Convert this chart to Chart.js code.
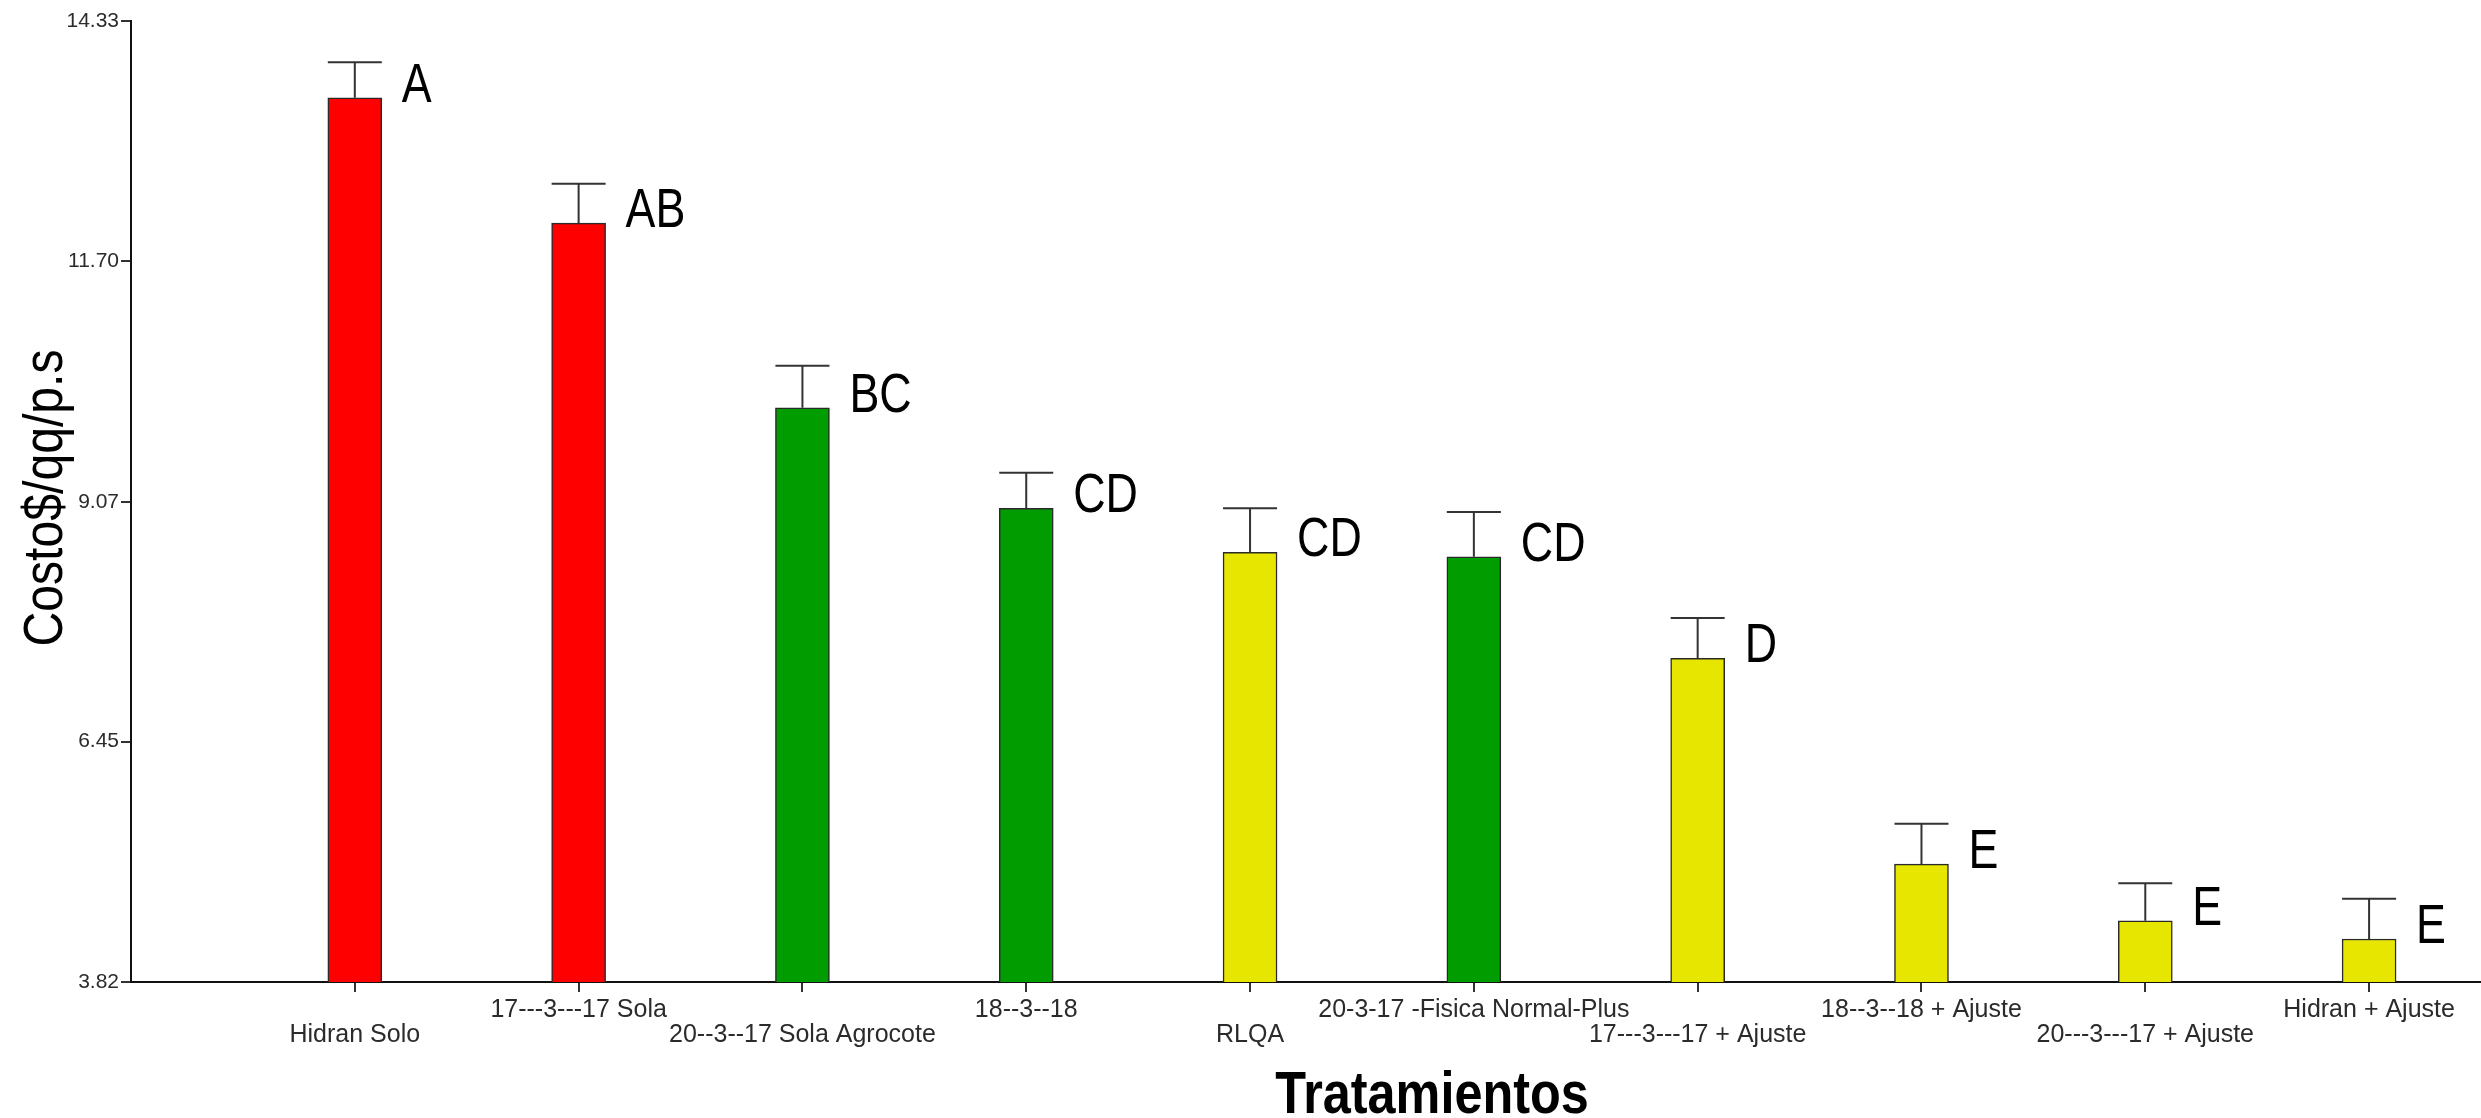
<!DOCTYPE html>
<html>
<head>
<meta charset="utf-8">
<script src="https://cdn.jsdelivr.net/npm/chart.js@4.4.1/dist/chart.umd.min.js"></script>
<style>
  html, body { margin: 0; padding: 0; background: #ffffff; }
  canvas { display: block; }
</style>
</head>
<body>
<canvas id="chart" width="2481" height="1118"></canvas>
<script>
// Treatments on the x axis
const tratamientos = [
  'Hidran Solo',
  '17---3---17 Sola',
  '20--3--17 Sola Agrocote',
  '18--3--18',
  'RLQA',
  '20-3-17 -Fisica Normal-Plus',
  '17---3---17 + Ajuste',
  '18--3--18 + Ajuste',
  '20---3---17 + Ajuste',
  'Hidran + Ajuste'
];
// Mean cost per treatment and its error bar
const costo = [13.49, 12.12, 10.10, 9.00, 8.52, 8.47, 7.36, 5.11, 4.49, 4.29];
const error = [0.39, 0.43, 0.46, 0.39, 0.48, 0.49, 0.44, 0.44, 0.41, 0.44];
// Significance groups
const letras = ['A', 'AB', 'BC', 'CD', 'CD', 'CD', 'D', 'E', 'E', 'E'];
// Fertilizer group of each treatment
const grupo = ['rojo', 'rojo', 'verde', 'verde', 'amarillo', 'verde', 'amarillo', 'amarillo', 'amarillo', 'amarillo'];
// Y axis tick values
const yTicks = [3.82, 6.45, 9.07, 11.70, 14.33];
// Positions of the treatments along the x axis
const xPos = [1, 2, 3, 4, 5, 6, 7, 8, 9, 10];

const colores = { rojo: '#ff0000', verde: '#009c00', amarillo: '#e6e600' };
const BAR_W = 54;
const FONT = "'Liberation Sans', Arial, Helvetica, sans-serif";

function drawNarrow(ctx, text, x, y, scaleX, font, align, baseline) {
  ctx.save();
  ctx.font = font;
  ctx.textAlign = align;
  ctx.textBaseline = baseline;
  ctx.translate(x, y);
  ctx.scale(scaleX, 1);
  ctx.fillText(text, 0, 0);
  ctx.restore();
}

const extras = {
  id: 'extras',
  afterDatasetsDraw(chart) {
    const ctx = chart.ctx;
    const xs = chart.scales.x, ys = chart.scales.y;
    ctx.save();
    costo.forEach((v, i) => {
      const cx = xs.getPixelForValue(xPos[i]);
      const top = ys.getPixelForValue(v);
      const cap = ys.getPixelForValue(v + error[i]);
      // error bar
      ctx.strokeStyle = '#333333';
      ctx.lineWidth = 2;
      ctx.beginPath();
      ctx.moveTo(cx, top);
      ctx.lineTo(cx, cap);
      ctx.moveTo(cx - BAR_W / 2, cap);
      ctx.lineTo(cx + BAR_W / 2, cap);
      ctx.stroke();
      // group letter
      ctx.fillStyle = '#000000';
      drawNarrow(ctx, letras[i], cx + BAR_W / 2 + 20, top + 4, 0.8,
        '56px ' + FONT, 'left', 'alphabetic');
    });
    ctx.restore();
  },
  afterDraw(chart) {
    const ctx = chart.ctx;
    ctx.save();
    ctx.fillStyle = '#000000';
    // x axis title
    drawNarrow(ctx, 'Tratamientos', 1432, 1113, 0.84,
      'bold 60px ' + FONT, 'center', 'alphabetic');
    // y axis title
    ctx.save();
    ctx.translate(62, 498);
    ctx.rotate(-Math.PI / 2);
    drawNarrow(ctx, 'Costo$/qq/p.s', 0, 0, 0.86,
      '56px ' + FONT, 'center', 'alphabetic');
    ctx.restore();
    ctx.restore();
  }
};

new Chart(document.getElementById('chart'), {
  type: 'bar',
  data: {
    datasets: [{
      data: xPos.map((x, i) => ({ x: x, y: costo[i] })),
      backgroundColor: grupo.map(g => colores[g]),
      borderColor: '#2a2a2a',
      borderWidth: 1.5,
      borderSkipped: 'bottom',
      barThickness: BAR_W
    }]
  },
  options: {
    responsive: false,
    devicePixelRatio: 1,
    animation: false,
    layout: { padding: { top: 21, right: 0, left: 0, bottom: 0 } },
    plugins: { legend: { display: false }, tooltip: { enabled: false } },
    scales: {
      x: {
        type: 'linear',
        offset: false,
        min: 0,
        max: 10.5,
        afterBuildTicks(scale) { scale.ticks = xPos.map(v => ({ value: v })); },
        afterFit(scale) {
          scale.height = 136;
          scale.paddingLeft = 0;
          scale.paddingRight = 0;
        },
        border: { display: true, color: '#111111', width: 2 },
        grid: { offset: false, drawOnChartArea: false, drawTicks: true, tickLength: 10, color: '#333333', lineWidth: 2 },
        ticks: {
          autoSkip: false,
          maxRotation: 0,
          minRotation: 0,
          padding: 6,
          color: '#2b2b2b',
          font: { family: FONT, size: 25, lineHeight: 1.0 },
          callback(value, index) {
            const t = tratamientos[index];
            return index % 2 === 0 ? ['', t] : t;
          }
        }
      },
      y: {
        type: 'linear',
        min: yTicks[0],
        max: yTicks[yTicks.length - 1],
        afterBuildTicks(scale) { scale.ticks = yTicks.map(v => ({ value: v })); },
        afterFit(scale) {
          scale.width = 131;
          scale.paddingTop = 0;
          scale.paddingBottom = 0;
        },
        border: { display: true, color: '#111111', width: 2 },
        grid: { drawOnChartArea: false, drawTicks: true, tickLength: 10, color: '#333333', lineWidth: 2 },
        ticks: {
          padding: 2,
          color: '#2b2b2b',
          font: { family: FONT, size: 21 },
          callback(value) { return Number(value).toFixed(2); }
        }
      }
    }
  },
  plugins: [extras]
});
</script>
</body>
</html>
